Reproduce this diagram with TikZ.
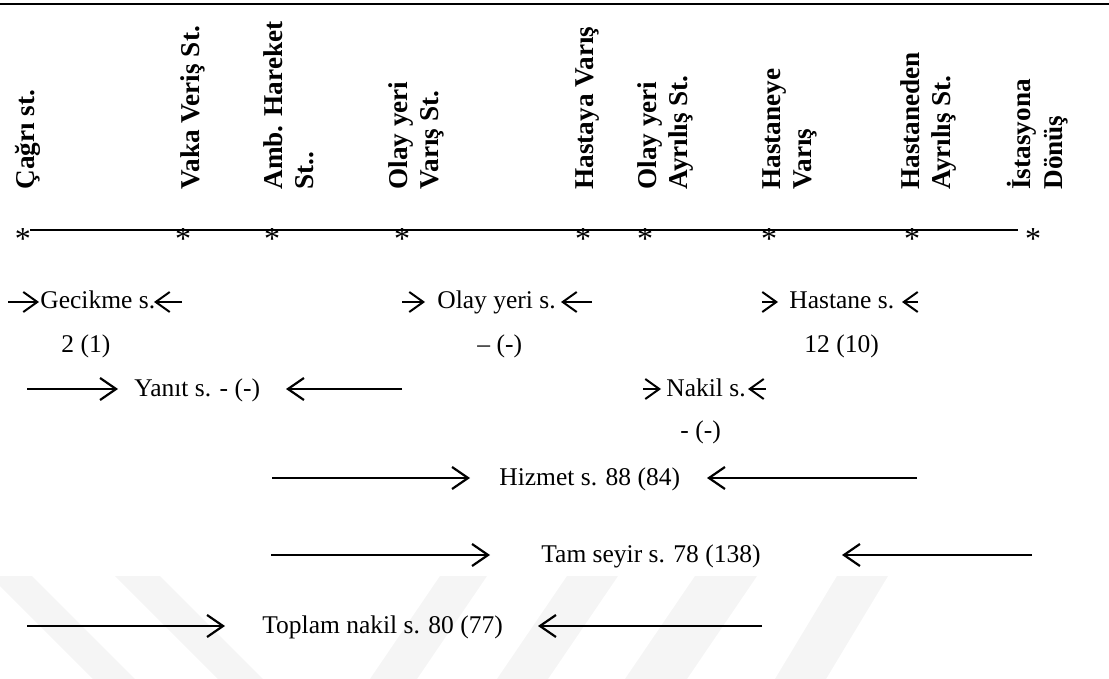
\documentclass[tikz,border=0pt]{standalone}
\usepackage{fontspec}
\setmainfont{Liberation Serif}
\usetikzlibrary{arrows.meta}
\tikzset{
 vlab/.style={rotate=90, anchor=north west, inner sep=0pt, align=left, font=\fontsize{13.6}{15.8}\selectfont\bfseries},
 txt/.style={anchor=base west, inner sep=0pt, font=\fontsize{12.75}{15}\selectfont},
 star/.style={anchor=base, inner sep=0pt, font=\fontsize{16}{18}\selectfont},
 arr/.style={line width=1.1pt, -{Straight Barb[length=8pt,width=11pt]}},
 sarr/.style={line width=1pt, -{Straight Barb[length=7pt,width=10pt]}},
 wm/.style={fill=black!4, draw=none}
}
\begin{document}
\begin{tikzpicture}[x=0.5pt,y=-0.5pt]
\useasboundingbox (0,0) rectangle (1109,679);
% faint watermark bands
\begin{scope}
\clip (0,0) rectangle (1109,679);
\fill[wm] (-10,576) -- (32,576) -- (135,679) -- (93,679) -- cycle;
\fill[wm] (115,576) -- (160,576) -- (263,679) -- (218,679) -- cycle;
\fill[wm] (440,576) -- (487,576) -- (417,679) -- (370,679) -- cycle;
\fill[wm] (567,576) -- (618,576) -- (548,679) -- (497,679) -- cycle;
\fill[wm] (695,576) -- (757,576) -- (687,679) -- (625,679) -- cycle;
\fill[wm] (837,576) -- (888,576) -- (826,679) -- (775,679) -- cycle;
\end{scope}
% top rule
\coordinate (r0) at (0,4);
\coordinate (r1) at (1109,4);
\draw[line width=1.1pt] (r0) -- (r1);
% vertical labels
\node[vlab] (l1) at (15,190) {Çağrı st.};
\node[vlab] (l2) at (180,190) {Vaka Veriş St.};
\node[vlab] (l3) at (263,190) {Amb. Hareket\\St..};
\node[vlab] (l4) at (388,190) {Olay yeri\\Varış St.};
\node[vlab] (l5) at (575,190) {Hastaya Varış};
\node[vlab] (l6) at (637,190) {Olay yeri\\Ayrılış St.};
\node[vlab] (l7) at (762,190) {Hastaneye\\Varış};
\node[vlab] (l8) at (900,190) {Hastaneden\\Ayrılış St.};
\node[vlab] (l9) at (1007,190) {İstasyona\\Dönüş};
% timeline
\coordinate (t0) at (30,230);
\coordinate (t1) at (1018,230);
\draw[line width=0.8pt] (t0) -- (t1);
\foreach \i/\x in {1/23,2/183,3/272,4/402,5/583,6/645,7/769,8/912,9/1033}
  \node[star] (s\i) at (\x,250) {*};
% row 2
\node[txt] (gec) at (40,309) {Gecikme s.};
\coordinate (gecA) at (8,302); \coordinate (gecAh) at (39,302);
\coordinate (gecB) at (182,302); \coordinate (gecBh) at (154,302);
\draw[sarr] (gecA) -- (gecAh);
\draw[sarr] (gecB) -- (gecBh);
\node[txt] (oly) at (437,309) {Olay yeri s.};
\coordinate (olyA) at (402,302); \coordinate (olyAh) at (425,302);
\coordinate (olyB) at (592,302); \coordinate (olyBh) at (561,302);
\draw[sarr] (olyA) -- (olyAh);
\draw[sarr] (olyB) -- (olyBh);
\node[txt] (has) at (789,309) {Hastane s.};
\coordinate (hasA) at (762,302); \coordinate (hasAh) at (778,302);
\coordinate (hasB) at (918,302); \coordinate (hasBh) at (902,302);
\draw[sarr] (hasA) -- (hasAh);
\draw[sarr] (hasB) -- (hasBh);
% values
\node[txt] (v1) at (61,352) {2 (1)};
\node[txt] (v2) at (477,352) {– (-)};
\node[txt] (v3) at (804,352) {12 (10)};
% row 3
\node[txt] (yan) at (134,396) {Yanıt s. - (-)};
\coordinate (yanA) at (27,389); \coordinate (yanAh) at (118,389);
\coordinate (yanB) at (402,389); \coordinate (yanBh) at (286,389);
\draw[arr] (yanA) -- (yanAh);
\draw[arr] (yanB) -- (yanBh);
\node[txt] (nak) at (666,396) {Nakil s.};
\coordinate (nakA) at (643,389); \coordinate (nakAh) at (661,389);
\coordinate (nakB) at (766,389); \coordinate (nakBh) at (748,389);
\draw[sarr] (nakA) -- (nakAh);
\draw[sarr] (nakB) -- (nakBh);
\node[txt] (v4) at (680,438) {- (-)};
% Hizmet
\node[txt] (hiz) at (499,485) {Hizmet s. 88 (84)};
\coordinate (hizA) at (272,478); \coordinate (hizAh) at (470,478);
\coordinate (hizB) at (917,478); \coordinate (hizBh) at (707,478);
\draw[arr] (hizA) -- (hizAh);
\draw[arr] (hizB) -- (hizBh);
% Tam seyir
\node[txt] (tam) at (541,562) {Tam seyir s. 78 (138)};
\coordinate (tamA) at (271,555); \coordinate (tamAh) at (490,555);
\coordinate (tamB) at (1032,555); \coordinate (tamBh) at (842,555);
\draw[arr] (tamA) -- (tamAh);
\draw[arr] (tamB) -- (tamBh);
% Toplam
\node[txt] (top) at (262,633) {Toplam nakil s. 80 (77)};
\coordinate (topA) at (27,626); \coordinate (topAh) at (225,626);
\coordinate (topB) at (762,626); \coordinate (topBh) at (538,626);
\draw[arr] (topA) -- (topAh);
\draw[arr] (topB) -- (topBh);
\end{tikzpicture}
\end{document}
